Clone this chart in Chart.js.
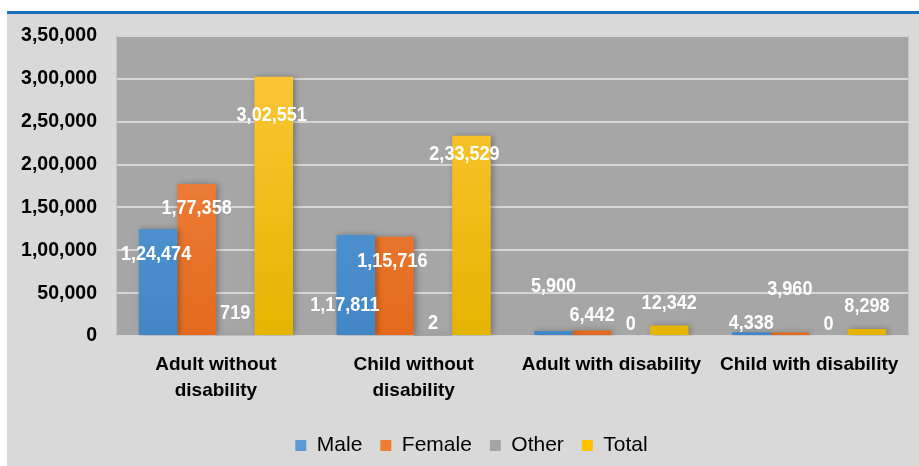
<!DOCTYPE html>
<html>
<head>
<meta charset="utf-8">
<script src="https://cdn.jsdelivr.net/npm/chart.js@4/dist/chart.umd.min.js"></script>
<style>
  html, body { margin: 0; padding: 0; background: #ffffff; width: 919px; height: 466px; overflow: hidden; }
  #topline { position: absolute; left: 7px; top: 11px; width: 912px; height: 3px; background: #1f70b8; }
  #panel { position: absolute; left: 7px; top: 14px; width: 912px; height: 452px; background: #d9d9d9; }
  canvas { display: block; }
</style>
</head>
<body>
<div id="topline"></div>
<div id="panel"><canvas id="c" width="912" height="452"></canvas></div>
<script>
// ---- data ----
const categories = [['Adult without', 'disability'], ['Child without', 'disability'], 'Adult with disability', 'Child with disability'];
const seriesNames = ['Male', 'Female', 'Other', 'Total'];
const maleValues = [124474, 117811, 5900, 4338];
const femaleValues = [177358, 115716, 6442, 3960];
const otherValues = [719, 2, 0, 0];
const totalValues = [302551, 233529, 12342, 8298];
const yTickValues = [0, 50000, 100000, 150000, 200000, 250000, 300000, 350000];

// ---- styling (label offsets in pixels relative to bar top / centre) ----
const labelOffsets = [
  [[-2, 24], [-11, 69], [0, -46], [0, -10]],
  [[0, 23], [-2, 23], [0, -16], [0, -44]],
  [[0, -23], [0, -14], [0, -13], [0, -13]],
  [[-2, 38], [-7, 17], [0, -23], [0, -24]]
];
const gradients = [
  ['#62a3de', '#4286c6'],
  ['#f28c50', '#e36a1c'],
  ['#a5a5a5', '#a5a5a5'],
  ['#ffc83c', '#e5b400']
];
const solid = ['#5b9bd5', '#ed7d31', '#a5a5a5', '#ffc000'];
const sansFont = "'Liberation Sans', Arial, sans-serif";

function inr(n) {
  const s = String(Math.round(n));
  if (s.length <= 3) return s;
  const last3 = s.slice(-3);
  const rest = s.slice(0, -3);
  return rest.replace(/\B(?=(\d{2})+(?!\d))/g, ',') + ',' + last3;
}

function gradFor(i) {
  return (ctx) => {
    const chart = ctx.chart;
    const ca = chart.chartArea;
    if (!ca) return solid[i];
    const g = chart.ctx.createLinearGradient(0, ca.top, 0, ca.bottom);
    g.addColorStop(0, gradients[i][0]);
    g.addColorStop(1, gradients[i][1]);
    return g;
  };
}

const allValues = [maleValues, femaleValues, otherValues, totalValues];

const plotBg = {
  id: 'plotBg',
  afterLayout(chart) {
    if (chart.legend) { chart.legend.left += 14; chart.legend.right += 14; }
  },
  beforeDraw(chart) {
    const { ctx, chartArea: a } = chart;
    ctx.save();
    ctx.fillStyle = '#a6a6a6';
    ctx.fillRect(a.left, a.top, a.right - a.left, a.bottom - a.top);
    ctx.strokeStyle = '#c4c4c4';
    ctx.lineWidth = 1;
    ctx.strokeRect(a.left - 0.5, a.top - 0.5, a.right - a.left + 1, a.bottom - a.top + 1);
    ctx.restore();
  }
};

const barShadow = {
  id: 'barShadow',
  beforeDatasetsDraw(chart) {
    const ctx = chart.ctx;
    ctx.save();
    ctx.shadowColor = 'rgba(0,0,0,0.30)';
    ctx.shadowBlur = 6;
    ctx.shadowOffsetX = 2;
    ctx.shadowOffsetY = 0;
  },
  afterDatasetsDraw(chart) {
    chart.ctx.restore();
  }
};

const valueLabels = {
  id: 'valueLabels',
  afterDatasetsDraw(chart) {
    const ctx = chart.ctx;
    chart.data.datasets.forEach((ds, i) => {
      const meta = chart.getDatasetMeta(i);
      meta.data.forEach((el, j) => {
        const off = labelOffsets[i][j];
        ctx.save();
        ctx.translate(el.x + off[0], el.y + off[1]);
        ctx.scale(0.86, 1);
        ctx.font = "bold 21px " + sansFont;
        ctx.fillStyle = '#ffffff';
        ctx.textAlign = 'center';
        ctx.textBaseline = 'middle';
        ctx.fillText(inr(ds.data[j]), 0, 1);
        ctx.restore();
      });
    });
  }
};

new Chart(document.getElementById('c'), {
  type: 'bar',
  data: {
    labels: categories,
    datasets: seriesNames.map((name, i) => ({
      label: name,
      data: allValues[i],
      backgroundColor: gradFor(i),
      borderWidth: 0,
      categoryPercentage: 0.78,
      barPercentage: 1.0
    }))
  },
  options: {
    responsive: false,
    animation: false,
    devicePixelRatio: 1,
    layout: { padding: { top: 22, right: 11, left: 0, bottom: 0 } },
    plugins: {
      tooltip: { enabled: false },
      legend: {
        position: 'bottom',
        labels: {
          boxWidth: 11,
          boxHeight: 11,
          padding: 18,
          color: '#111111',
          font: { family: sansFont, size: 21 },
          generateLabels(chart) {
            return chart.data.datasets.map((ds, i) => ({
              text: ds.label,
              fillStyle: solid[i],
              strokeStyle: solid[i],
              lineWidth: 0,
              hidden: false,
              datasetIndex: i
            }));
          }
        }
      }
    },
    scales: {
      x: {
        grid: { display: false, drawTicks: false },
        border: { display: false },
        ticks: {
          color: '#000000',
          padding: 15,
          maxRotation: 0,
          autoSkip: false,
          font: { family: sansFont, size: 19, weight: 'bold', lineHeight: 1.4 }
        },
        afterFit(scale) {
          scale.height = 81;
          scale.paddingLeft = 0;
          scale.paddingRight = 0;
        }
      },
      y: {
        min: 0,
        max: 350000,
        afterBuildTicks(scale) { scale.ticks = yTickValues.map(v => ({ value: v })); },
        grid: { color: '#d6d6d6', lineWidth: 2, drawTicks: false },
        border: { display: false },
        ticks: {
          color: '#000000',
          padding: 20,
          font: { family: sansFont, size: 19.5, weight: 'bold' },
          callback: (v) => inr(v)
        },
        afterFit(scale) {
          scale.width = 110;
          scale.paddingTop = 0;
          scale.paddingBottom = 0;
        }
      }
    }
  },
  plugins: [plotBg, barShadow, valueLabels]
});
</script>
</body>
</html>
